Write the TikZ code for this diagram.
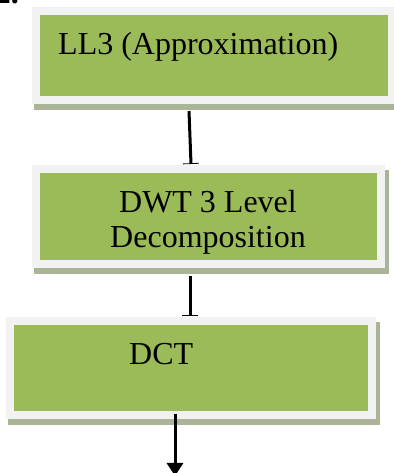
\documentclass[tikz,border=0pt]{standalone}
\usepackage{fontspec}
\setmainfont{Liberation Serif}
\usepackage{tikz}
\usetikzlibrary{arrows.meta,backgrounds}
\definecolor{boxgreen}{HTML}{9BBB59}
\definecolor{boxrim}{HTML}{F2F2F2}
\definecolor{boxshadow}{HTML}{AAB598}
\tikzstyle{box} = [rectangle, draw=boxrim, line width=8pt, fill=boxgreen, inner sep=0pt]
\tikzstyle{boxtext} = [font=\fontsize{32}{35}\selectfont, inner sep=0pt]
\tikzstyle{link} = [line width=3pt, -{Bar[width=16pt, line width=0.8pt]}]
\tikzstyle{arrow} = [line width=3pt, -{Triangle[width=16pt, length=13pt]}]

\begin{document}
\begin{tikzpicture}[x=1pt, y=1pt]
    \useasboundingbox (0,0) rectangle (393,473);

    % Caption number (cut off)
    \node[boxtext, font=\fontsize{32}{35}\selectfont\bfseries, anchor=base east] (fignum) at (19,469) {2.};

    % Boxes
    \node[box, minimum width=356pt, minimum height=89pt] (ll3) at (214,417.5) {};
    \node[box, minimum width=345pt, minimum height=95pt] (dwt) at (208.5,256.5) {};
    \node[box, minimum width=362pt, minimum height=94pt] (dct) at (191,105) {};

    % Shadows
    \begin{scope}[on background layer]
        \foreach \n in {ll3,dwt,dct}
            \fill[boxshadow] ([shift={(2,-6)}]\n.south west) rectangle ([shift={(4,-5)}]\n.north east);
    \end{scope}

    % Texts
    \node[boxtext, anchor=base west] (ll3txt) at (58,418) {LL3 (Approximation)};
    \node[boxtext, align=center] (dwttxt) at (208,251) {DWT 3 Level\\Decomposition};
    \node[boxtext, anchor=base west] (dcttxt) at (129,108) {DCT};

    % Connections
    \coordinate (out) at (175,-3);
    \draw[link] ([shift={(-25,-7)}]ll3.south) -- ([shift={(-17.5,1)}]dwt.north);
    \draw[link] ([shift={(-18.5,-8)}]dwt.south) -- ([shift={(-1,1)}]dct.north);
    \draw[arrow] ([shift={(-16,5)}]dct.south) -- (out);
\end{tikzpicture}
\end{document}
